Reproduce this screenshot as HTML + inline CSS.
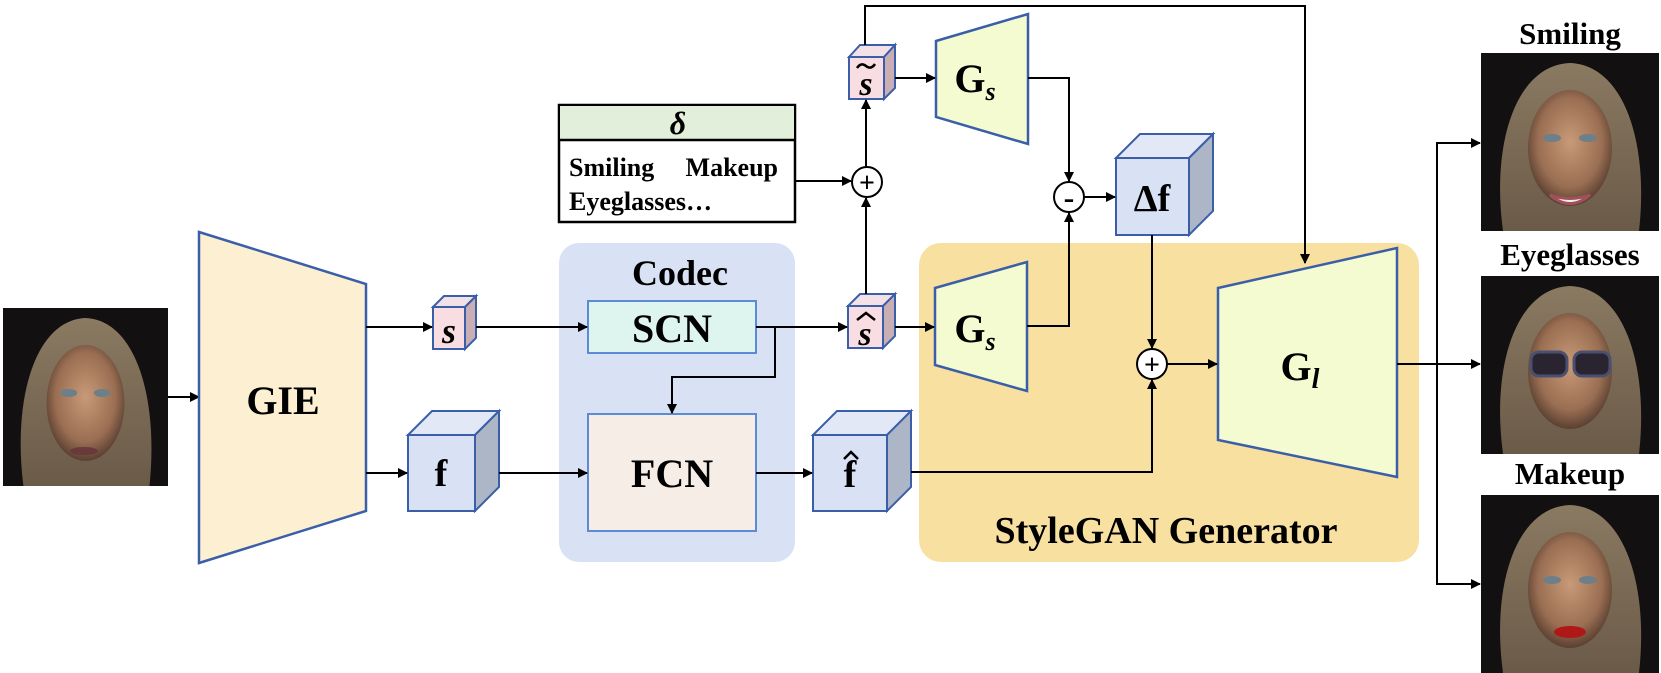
<!DOCTYPE html>
<html><head><meta charset="utf-8"><style>
html,body{margin:0;padding:0;background:#fff;}
svg{display:block;}
text{font-family:"Liberation Serif",serif;font-weight:bold;fill:#000;}
</style></head><body>
<svg width="1661" height="673" viewBox="0 0 1661 673" xmlns="http://www.w3.org/2000/svg">
<defs>
<marker id="ar" markerWidth="10" markerHeight="10" refX="9" refY="5" orient="auto" markerUnits="userSpaceOnUse">
<path d="M0,0 L10,5 L0,10 z" fill="#000"/></marker>
<radialGradient id="skin" cx="50%" cy="45%" r="55%"><stop offset="0" stop-color="#c89a78"/><stop offset="0.7" stop-color="#9a6e52"/><stop offset="1" stop-color="#5a4032"/></radialGradient>
<linearGradient id="hair" x1="0" y1="0" x2="0" y2="1"><stop offset="0" stop-color="#8a7a62"/><stop offset="1" stop-color="#6a5a48"/></linearGradient>
<g id="face">
<rect x="0" y="0" width="178" height="178" fill="#121010"/>
<path d="M22,178 C10,90 35,12 89,10 C143,12 168,90 158,178 z" fill="url(#hair)"/>
<ellipse cx="89" cy="95" rx="42" ry="58" fill="url(#skin)"/>
<ellipse cx="71" cy="85" rx="9" ry="4" fill="#6d7f88"/>
<ellipse cx="107" cy="85" rx="9" ry="4" fill="#6d7f88"/>
</g>
</defs>

<!-- input face -->
<g transform="translate(3,308) scale(0.927,1)"><use href="#face"/></g>
<ellipse cx="84" cy="451" rx="14" ry="4" fill="#6a3a3a"/>
<line x1="168" y1="397" x2="199" y2="397" stroke="#000" stroke-width="2" marker-end="url(#ar)"/>

<!-- GIE -->
<polygon points="199,232 366,284 366,511 199,563" fill="#fdf0d2" stroke="#3a5fa8" stroke-width="2.5"/>
<text x="283" y="414" font-size="40" text-anchor="middle">GIE</text>

<!-- Codec box -->
<rect x="559" y="243" width="236" height="319" rx="20" fill="#d9e1f4"/>
<text x="680" y="285" font-size="36" text-anchor="middle">Codec</text>
<rect x="588" y="301" width="168" height="52" fill="#ddf4ef" stroke="#5b8bd6" stroke-width="2"/>
<text x="672" y="342" font-size="40" text-anchor="middle">SCN</text>
<rect x="588" y="414" width="168" height="117" fill="#f5ede6" stroke="#5b8bd6" stroke-width="2"/>
<text x="672" y="487" font-size="40" text-anchor="middle">FCN</text>

<!-- StyleGAN box -->
<rect x="919" y="243" width="500" height="319" rx="22" fill="#f8e1a0"/>
<text x="1166" y="543" font-size="38" text-anchor="middle">StyleGAN Generator</text>

<!-- s cube -->
<polygon points="433,307 444,296 476,296 465,307" fill="#f2e1e6" stroke="#3a5fa8" stroke-width="2"/>
<polygon points="465,307 476,296 476,338 465,349" fill="#c9aeb3" stroke="#3a5fa8" stroke-width="2"/>
<rect x="433" y="307" width="32" height="42" fill="#f8dde3" stroke="#3a5fa8" stroke-width="2"/>
<text x="449" y="343" font-size="36" font-style="italic" text-anchor="middle">s</text>

<!-- f cube -->
<polygon points="408,435 432,411 499,411 475,435" fill="#e2e8f6" stroke="#3a5fa8" stroke-width="2"/>
<polygon points="475,435 499,411 499,487 475,511" fill="#adb6c7" stroke="#3a5fa8" stroke-width="2"/>
<rect x="408" y="435" width="67" height="76" fill="#d9e1f4" stroke="#3a5fa8" stroke-width="2"/>
<text x="441" y="486" font-size="38" text-anchor="middle">f</text>

<!-- fhat cube -->
<polygon points="813,435 837,411 911,411 887,435" fill="#e2e8f6" stroke="#3a5fa8" stroke-width="2"/>
<polygon points="887,435 911,411 911,487 887,511" fill="#adb6c7" stroke="#3a5fa8" stroke-width="2"/>
<rect x="813" y="435" width="74" height="76" fill="#d9e1f4" stroke="#3a5fa8" stroke-width="2"/>
<text x="850" y="487" font-size="38" text-anchor="middle">f</text>
<polyline points="844,459 851,452 858,459" fill="none" stroke="#000" stroke-width="2.5"/>

<!-- s-hat cube -->
<polygon points="848,306 860,294 895,294 883,306" fill="#f2e1e6" stroke="#3a5fa8" stroke-width="2"/>
<polygon points="883,306 895,294 895,336 883,348" fill="#c9aeb3" stroke="#3a5fa8" stroke-width="2"/>
<rect x="848" y="306" width="35" height="42" fill="#f8dde3" stroke="#3a5fa8" stroke-width="2"/>
<text x="865" y="345" font-size="34" font-style="italic" text-anchor="middle">s</text>
<polyline points="857,320 866,313 875,320" fill="none" stroke="#000" stroke-width="2.5"/>

<!-- s-tilde cube -->
<polygon points="849,57 860,45 895,45 884,57" fill="#f2e1e6" stroke="#3a5fa8" stroke-width="2"/>
<polygon points="884,57 895,45 895,88 884,99" fill="#c9aeb3" stroke="#3a5fa8" stroke-width="2"/>
<rect x="849" y="57" width="35" height="42" fill="#f8dde3" stroke="#3a5fa8" stroke-width="2"/>
<text x="866" y="95" font-size="34" font-style="italic" text-anchor="middle">s</text>
<path d="M857,68 Q861,62 866,66 Q871,70 875,64" fill="none" stroke="#000" stroke-width="2.5"/>

<!-- delta box -->
<rect x="559" y="105" width="236" height="117" fill="#fff" stroke="#000" stroke-width="2.5"/>
<rect x="560" y="106" width="234" height="34" fill="#e2efda"/>
<line x1="559" y1="140" x2="795" y2="140" stroke="#000" stroke-width="2.5"/>
<text x="678" y="134" font-size="32" font-style="italic" text-anchor="middle">δ</text>
<text x="569" y="176" font-size="26">Smiling</text>
<text x="778" y="176" font-size="26" text-anchor="end">Makeup</text>
<text x="569" y="210" font-size="26">Eyeglasses…</text>

<!-- Gs upper -->
<polygon points="936,41 1028,14 1028,144 936,117" fill="#f5fbd0" stroke="#3a5fa8" stroke-width="2.5"/>
<text x="975" y="92" font-size="40" text-anchor="middle">G<tspan font-size="26" font-style="italic" dy="8">s</tspan></text>
<!-- Gs lower -->
<polygon points="935,288 1027,262 1027,391 935,365" fill="#f5fbd0" stroke="#3a5fa8" stroke-width="2.5"/>
<text x="975" y="342" font-size="40" text-anchor="middle">G<tspan font-size="26" font-style="italic" dy="8">s</tspan></text>
<!-- Gl -->
<polygon points="1218,288 1397,248 1397,477 1218,440" fill="#f5fbd0" stroke="#3a5fa8" stroke-width="2.5"/>
<text x="1300" y="380" font-size="40" text-anchor="middle">G<tspan font-size="28" font-style="italic" dy="8">l</tspan></text>

<!-- delta f cube -->
<polygon points="1116,158 1140,134 1213,134 1189,158" fill="#e2e8f6" stroke="#3a5fa8" stroke-width="2"/>
<polygon points="1189,158 1213,134 1213,211 1189,235" fill="#adb6c7" stroke="#3a5fa8" stroke-width="2"/>
<rect x="1116" y="158" width="73" height="77" fill="#d9e1f4" stroke="#3a5fa8" stroke-width="2"/>
<text x="1152" y="211" font-size="38" text-anchor="middle">Δf</text>

<!-- circles -->
<g fill="#fff" stroke="#000" stroke-width="2">
<circle cx="867" cy="182" r="15"/>
<circle cx="1069" cy="197" r="15"/>
<circle cx="1152" cy="364" r="15"/>
</g>
<text x="867" y="192" font-size="28" text-anchor="middle">+</text>
<text x="1069" y="208" font-size="32" text-anchor="middle">-</text>
<text x="1152" y="374" font-size="28" text-anchor="middle">+</text>

<!-- connectors -->
<g stroke="#000" stroke-width="2" fill="none">
<line x1="366" y1="327" x2="432" y2="327" marker-end="url(#ar)"/>
<line x1="366" y1="473" x2="407" y2="473" marker-end="url(#ar)"/>
<line x1="476" y1="327" x2="587" y2="327" marker-end="url(#ar)"/>
<line x1="499" y1="473" x2="587" y2="473" marker-end="url(#ar)"/>
<line x1="756" y1="327" x2="847" y2="327" marker-end="url(#ar)"/>
<polyline points="775,327 775,377 672,377 672,413" marker-end="url(#ar)"/>
<line x1="756" y1="473" x2="812" y2="473" marker-end="url(#ar)"/>
<line x1="895" y1="327" x2="934" y2="327" marker-end="url(#ar)"/>
<line x1="866" y1="294" x2="866" y2="198" marker-end="url(#ar)"/>
<line x1="795" y1="181" x2="851" y2="181" marker-end="url(#ar)"/>
<line x1="866" y1="167" x2="866" y2="100" marker-end="url(#ar)"/>
<line x1="895" y1="78" x2="935" y2="78" marker-end="url(#ar)"/>
<polyline points="865,45 865,6 1305,6 1305,263" marker-end="url(#ar)"/>
<polyline points="1028,78 1069,78 1069,181" marker-end="url(#ar)"/>
<polyline points="1027,326 1069,326 1069,213" marker-end="url(#ar)"/>
<line x1="1084" y1="197" x2="1115" y2="197" marker-end="url(#ar)"/>
<line x1="1152" y1="235" x2="1152" y2="348" marker-end="url(#ar)"/>
<polyline points="911,472 1152,472 1152,380" marker-end="url(#ar)"/>
<line x1="1167" y1="364" x2="1217" y2="364" marker-end="url(#ar)"/>
<line x1="1397" y1="364" x2="1480" y2="364" marker-end="url(#ar)"/>
<polyline points="1480,143 1437,143 1437,584 1480,584"/>
<line x1="1437" y1="143" x2="1480" y2="143" marker-end="url(#ar)"/>
<line x1="1437" y1="584" x2="1480" y2="584" marker-end="url(#ar)"/>
</g>

<!-- output faces -->
<text x="1570" y="44" font-size="31" text-anchor="middle">Smiling</text>
<g transform="translate(1481,53)"><use href="#face"/></g>
<path d="M1550,195 Q1570,212 1590,195 Q1570,202 1550,195z" fill="#eee" stroke="#a0505a" stroke-width="3"/>
<text x="1570" y="265" font-size="31" text-anchor="middle">Eyeglasses</text>
<g transform="translate(1481,276)"><use href="#face"/></g>
<rect x="1531" y="352" width="36" height="24" rx="8" fill="#2a2430" stroke="#4a5070" stroke-width="3"/>
<rect x="1574" y="352" width="36" height="24" rx="8" fill="#2a2430" stroke="#4a5070" stroke-width="3"/>
<text x="1570" y="484" font-size="31" text-anchor="middle">Makeup</text>
<g transform="translate(1481,495)"><use href="#face"/></g>
<ellipse cx="1570" cy="632" rx="16" ry="6" fill="#b01818"/>
</svg>
</body></html>
